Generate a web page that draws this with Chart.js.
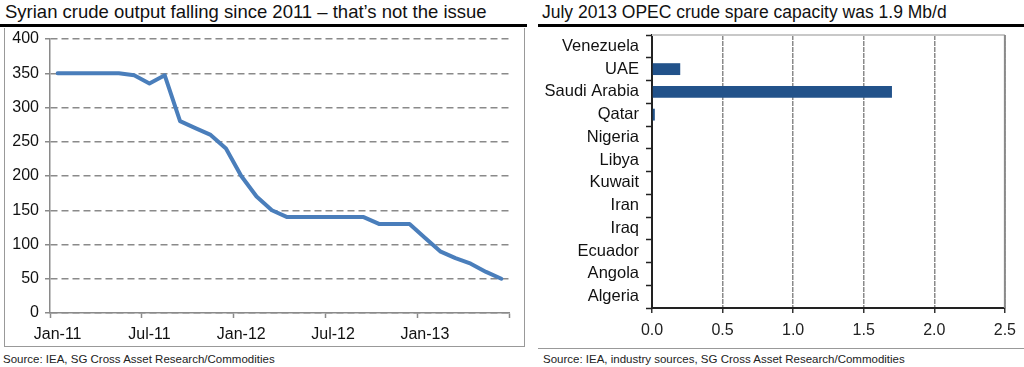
<!DOCTYPE html>
<html>
<head>
<meta charset="utf-8">
<script src="https://cdn.jsdelivr.net/npm/chart.js@4.4.1/dist/chart.umd.min.js"></script>
<style>
  html, body { margin:0; padding:0; background:#fff; }
  body { width:1024px; height:367px; position:relative; overflow:hidden; font-family:"Liberation Sans", Arial, sans-serif; }
  .title { position:absolute; top:2px; font-size:17.5px; color:#111; white-space:nowrap; }
  .rule { position:absolute; top:24px; height:3px; background:#000; }
  .src { position:absolute; top:353px; font-size:11.5px; color:#222; white-space:nowrap; }
  canvas { position:absolute; top:0; }
  .frame { position:absolute; border-left:1px solid #999; border-right:1px solid #999; border-bottom:1px solid #999; }
  .hline { position:absolute; height:1px; background:#999; }
</style>
</head>
<body>
<div class="title" style="left:5px; font-size:18.5px; top:1px;">Syrian crude output falling since 2011 – that’s not the issue</div>
<div class="rule" style="left:0; width:527px;"></div>
<div class="frame" style="left:4px; top:28px; width:519px; height:318px;"></div>
<div class="src" style="left:3px;">Source: IEA, SG Cross Asset Research/Commodities</div>

<div class="title" style="left:542px;">July 2013 OPEC crude spare capacity was 1.9 Mb/d</div>
<div class="rule" style="left:538px; width:486px;"></div>
<div class="hline" style="left:538px; top:348px; width:486px;"></div>
<div class="src" style="left:543px;">Source: IEA, industry sources, SG Cross Asset Research/Commodities</div>

<canvas id="c1" width="520" height="367" style="left:0;"></canvas>
<canvas id="c2" width="504" height="367" style="left:520px;"></canvas>

<script>
// ---- Data: Syrian crude output (kb/d), monthly Jan-11 .. Jun-13
const months = [
  'Jan-11','Feb-11','Mar-11','Apr-11','May-11','Jun-11','Jul-11','Aug-11','Sep-11','Oct-11','Nov-11','Dec-11',
  'Jan-12','Feb-12','Mar-12','Apr-12','May-12','Jun-12','Jul-12','Aug-12','Sep-12','Oct-12','Nov-12','Dec-12',
  'Jan-13','Feb-13','Mar-13','Apr-13','May-13','Jun-13'
];
const syriaOutput = [
  350,350,350,350,350,347,335,347,280,270,260,240,
  200,170,150,140,140,140,140,140,140,130,130,130,
  110,90,80,72,60,50
];
const yTicksLeft = [0,50,100,150,200,250,300,350,400];

// ---- Data: OPEC spare capacity July 2013 (Mb/d)
const countries = ['Venezuela','UAE','Saudi Arabia','Qatar','Nigeria','Libya','Kuwait','Iran','Iraq','Ecuador','Angola','Algeria'];
const spareCapacity = [0, 0.2, 1.7, 0.02, 0, 0, 0, 0, 0, 0, 0, 0];
const xTicksRight = ['0.0','0.5','1.0','1.5','2.0','2.5'];

const FONT = '"Liberation Sans", Arial, sans-serif';

new Chart(document.getElementById('c1'), {
  type: 'line',
  data: {
    labels: months,
    datasets: [{
      data: syriaOutput,
      borderColor: '#4a7ebb',
      borderWidth: 4,
      pointRadius: 0,
      tension: 0,
      borderJoinStyle: 'round',
      borderCapStyle: 'round'
    }]
  },
  options: {
    responsive: false,
    animation: false,
    devicePixelRatio: 1,
    layout: { padding: { top: 39, right: 11, left: 0, bottom: 0 } },
    plugins: { legend: { display: false }, tooltip: { enabled: false } },
    scales: {
      x: {
        type: 'category',
        offset: true,
        afterFit: s => { s.height = 54; },
        grid: {
          offset: true,
          drawOnChartArea: false,
          drawTicks: true,
          tickLength: 5,
          tickColor: c => (c.index === undefined || c.index % 6 === 0) ? '#8a8a8a' : 'rgba(0,0,0,0)',
          tickWidth: 1.5
        },
        border: { display: true, color: '#8a8a8a', width: 1.5 },
        ticks: {
          autoSkip: false,
          maxRotation: 0,
          padding: 7,
          color: '#111',
          font: { family: FONT, size: 16 },
          callback: function(v, i) { return i % 6 === 0 ? months[i] : ''; }
        }
      },
      y: {
        min: 0, max: 400,
        afterFit: s => { s.width = 50; },
        afterBuildTicks: s => { s.ticks = yTicksLeft.map(v => ({ value: v })); },
        grid: {
          color: '#8a8a8a',
          lineWidth: 1.5,
          drawTicks: true,
          tickLength: 5,
          tickBorderDash: []
        },
        border: { display: true, color: '#8a8a8a', width: 1.5, dash: [7, 4] },
        ticks: {
          padding: 6,
          color: '#111',
          font: { family: FONT, size: 16 }
        }
      }
    }
  }
});

const frameRight = {
  id: 'frameRight',
  afterDraw(chart) {
    const { ctx, chartArea: a } = chart;
    ctx.save();
    ctx.strokeStyle = '#c8c8c8';
    ctx.lineWidth = 2;
    ctx.beginPath(); ctx.moveTo(a.left, a.top); ctx.lineTo(a.right, a.top); ctx.stroke();
    ctx.strokeStyle = '#8a8a8a';
    ctx.beginPath(); ctx.moveTo(a.right, a.top); ctx.lineTo(a.right, a.bottom); ctx.stroke();
    ctx.restore();
  }
};

new Chart(document.getElementById('c2'), {
  type: 'bar',
  data: {
    labels: countries,
    datasets: [{
      data: spareCapacity,
      backgroundColor: '#22528a',
      borderWidth: 0,
      barPercentage: 0.52,
      categoryPercentage: 1
    }]
  },
  plugins: [frameRight],
  options: {
    indexAxis: 'y',
    responsive: false,
    animation: false,
    devicePixelRatio: 1,
    layout: { padding: { top: 35, right: 14, left: 0, bottom: 0 } },
    plugins: { legend: { display: false }, tooltip: { enabled: false } },
    scales: {
      x: {
        type: 'linear',
        min: 0, max: 2.5,
        afterFit: s => { s.height = 59; },
        afterBuildTicks: s => { s.ticks = xTicksRight.map(t => ({ value: parseFloat(t) })); },
        grid: {
          color: '#8a8a8a',
          lineWidth: 1.5,
          drawTicks: true,
          tickLength: 5,
          tickColor: '#333',
          tickBorderDash: []
        },
        border: { display: true, color: '#222', width: 2, dash: [5, 1] },
        ticks: {
          padding: 8,
          color: '#222',
          font: { family: FONT, size: 16 },
          callback: (v, i) => xTicksRight[i]
        }
      },
      y: {
        type: 'category',
        offset: true,
        afterFit: s => { s.width = 132; },
        grid: {
          offset: true,
          drawOnChartArea: false,
          drawTicks: true,
          tickLength: 6,
          tickColor: '#222',
          tickWidth: 1.5
        },
        border: { display: true, color: '#222', width: 2 },
        ticks: {
          autoSkip: false,
          padding: 7,
          color: '#111',
          font: { family: FONT, size: 16.5 }
        }
      }
    }
  }
});
</script>
</body>
</html>
